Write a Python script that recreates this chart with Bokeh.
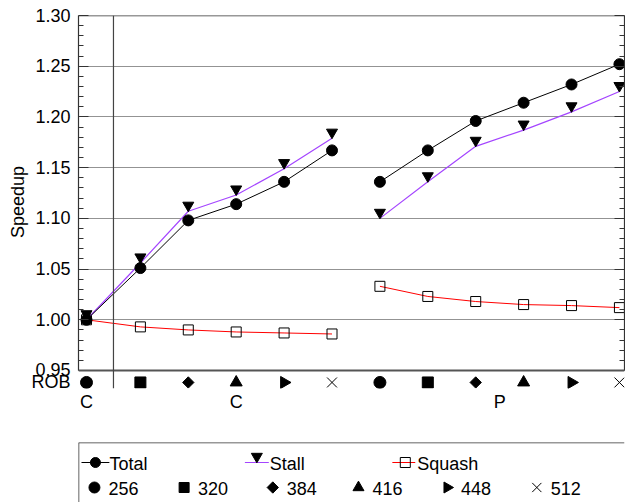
import math
from bokeh.plotting import figure
from bokeh.models import (Range1d, LinearAxis, FixedTicker, Span, Grid, Title,
                          ColumnDataSource, PrintfTickFormatter, CustomJSTickFormatter)
from bokeh.layouts import column
from bokeh.transform import dodge
from bokeh.core.properties import value
from bokeh.embed import file_html
from bokeh.resources import INLINE

FONT = "Liberation Sans"

# ---------------- data ----------------
ROB_SIZES = ["256", "320", "384", "416", "448", "512"]
ROW_NAME = "ROB"
# x positions of the six ROB sizes within each group
C_X = [-0.125, 1, 2, 3, 4, 5]
P_X = [6, 7, 8, 9, 10, 11]

TOTAL_C = [1.000, 1.051, 1.098, 1.114, 1.136, 1.167]
TOTAL_P = [1.136, 1.167, 1.196, 1.214, 1.232, 1.252]
STALL_C = [1.000, 1.056, 1.107, 1.123, 1.149, 1.179]
STALL_P = [1.100, 1.136, 1.171, 1.187, 1.205, 1.225]
SQUASH_C = [1.000, 0.993, 0.990, 0.988, 0.987, 0.986]
SQUASH_P = [1.033, 1.023, 1.018, 1.015, 1.014, 1.012]

GROUP_LABELS = ["C", "C", "P"]
GROUP_LABEL_X = [-0.125, 3, 8.5]
Y_TICKS = [0.95, 1.00, 1.05, 1.10, 1.15, 1.20, 1.25, 1.30]
SERIES_NAMES = ["Total", "Stall", "Squash"]

# ---------------- styles ----------------
ROB_MARKERS = ["circle", "square", "square", "triangle", "triangle", "x"]
ROB_ANGLES = [0, 0, math.pi / 4, 0, -math.pi / 2, 0]
ROB_MSIZES = [12, 11, 8, 12, 12, 14]
PURPLE = "#a445ff"
RED = "#ff0000"
AXIS_C = "#333333"
GRID_C = "#939393"

X_START, X_END = -0.292, 11.106
Y_START, Y_END = 0.93225, 1.30
ROW_Y = 0.9382
SEP_X = 0.438
STALL_SHIFT = 0.0058

Y_MINOR = [round(0.95 + 0.01 * k, 2) for k in range(36) if k % 5]

p = figure(width=625, height=440, x_range=Range1d(X_START, X_END),
           y_range=Range1d(Y_START, Y_END), x_axis_type=None, y_axis_type=None,
           output_backend="svg", toolbar_location=None,
           min_border_left=78, min_border_right=1, min_border_top=15,
           min_border_bottom=52)
p.outline_line_color = None
p.background_fill_color = "white"

p.add_layout(Grid(dimension=1, ticker=FixedTicker(ticks=Y_TICKS[1:-1]),
                  grid_line_color=GRID_C, grid_line_width=1))

def tick_axis():
    ax = LinearAxis(ticker=FixedTicker(ticks=Y_TICKS, minor_ticks=Y_MINOR),
                    formatter=CustomJSTickFormatter(code="return ''"))
    ax.bounds = (Y_TICKS[0], Y_TICKS[-1])
    ax.axis_line_color = AXIS_C
    ax.axis_line_width = 1.2
    ax.major_tick_in = 10
    ax.major_tick_out = 0
    ax.minor_tick_in = 5
    ax.minor_tick_out = 0
    ax.major_tick_line_color = AXIS_C
    ax.minor_tick_line_color = AXIS_C
    ax.major_label_standoff = 0
    ax.major_label_text_font_size = "0px"
    return ax

# left: ticks + axis line (nearest the frame)
p.add_layout(tick_axis(), "left")

# left: tick labels, plus the ROB row name
yl = LinearAxis(ticker=FixedTicker(ticks=Y_TICKS + [ROW_Y]),
                formatter=PrintfTickFormatter(format="%.2f"),
                major_label_overrides={ROW_Y: ROW_NAME})
yl.axis_line_color = None
yl.major_tick_line_color = None
yl.minor_tick_line_color = None
yl.major_tick_in = 0
yl.major_tick_out = 0
yl.major_label_standoff = 8
yl.major_label_text_font = FONT
yl.major_label_text_font_size = "18px"
yl.major_label_text_color = "black"
p.add_layout(yl, "left")

p.add_layout(Title(text="Speedup", align="center", text_font=FONT,
                   text_font_size="18px", text_font_style="normal",
                   text_color="black", standoff=2, offset=5), "left")

p.add_layout(tick_axis(), "right")

xb = LinearAxis(ticker=FixedTicker(ticks=GROUP_LABEL_X),
                major_label_overrides={x: l for x, l in zip(GROUP_LABEL_X, GROUP_LABELS)})
xb.axis_line_color = None
xb.major_tick_line_color = None
xb.minor_tick_line_color = None
xb.major_tick_in = 0
xb.major_tick_out = 0
xb.major_label_standoff = 3
xb.major_label_text_font = FONT
xb.major_label_text_font_size = "18px"
xb.major_label_text_color = "black"
p.add_layout(xb, "below")

# frame lines
p.add_layout(Span(location=Y_TICKS[-1], dimension="width", line_color=AXIS_C, line_width=1.5))
p.add_layout(Span(location=Y_TICKS[0], dimension="width", line_color="#555555", line_width=2.2))
p.add_layout(Span(location=SEP_X, dimension="height", line_color="#444444", line_width=1.2))

# series
for xs, tot, st, sq in [(C_X, TOTAL_C, STALL_C, SQUASH_C), (P_X, TOTAL_P, STALL_P, SQUASH_P)]:
    src = ColumnDataSource(dict(x=xs, total=tot, stall=st, squash=sq))
    p.line("x", "squash", source=src, line_color=RED, line_width=1)
    p.scatter("x", "squash", source=src, marker="square", size=10,
              fill_color=None, line_color="black", line_width=1)
    p.line("x", "stall", source=src, line_color=PURPLE, line_width=1.2)
    p.scatter("x", dodge("stall", STALL_SHIFT), source=src, marker="inverted_triangle",
              size=11, fill_color="black", line_color="black")
    p.line("x", "total", source=src, line_color="black", line_width=1)
    p.scatter("x", "total", source=src, marker="circle", size=11,
              fill_color="black", line_color="black")

# ROB marker row
row_src = ColumnDataSource(dict(
    x=C_X + P_X,
    y=[ROW_Y] * 12,
    marker=ROB_MARKERS * 2,
    angle=ROB_ANGLES * 2,
    size=ROB_MSIZES * 2,
))
p.scatter("x", "y", source=row_src, marker="marker", angle="angle", size="size",
          fill_color="black", line_color="black", line_width=1)

# ---------------- legend ----------------
lg = figure(width=625, height=62, x_range=Range1d(0, 548), y_range=Range1d(60, 0),
            x_axis_type=None, y_axis_type=None, output_backend="svg",
            toolbar_location=None, min_border_left=77, min_border_right=0,
            min_border_top=2, min_border_bottom=0)
lg.outline_line_color = None
lg.add_layout(Span(location=0, dimension="width", line_color=AXIS_C, line_width=1.5))
lg.add_layout(Span(location=0, dimension="height", line_color=AXIS_C, line_width=1.5))

R1, R2 = 20, 45
# row 1: series
lg.line([3, 31], [R1, R1], line_color="black", line_width=1)
lg.scatter([17], [R1], marker="circle", size=10, fill_color="black", line_color="black")
lg.line([167, 191], [R1, R1], line_color=PURPLE, line_width=1.2)
lg.scatter([179], [R1 - 6], marker="inverted_triangle", size=11, fill_color="black",
           line_color="black")
lg.line([315, 338], [R1, R1], line_color=RED, line_width=1)
lg.scatter([328], [R1], marker="square", size=10, fill_color=None, line_color="black")
lg.text([31, 192, 340], [R1 + 1] * 3, text=SERIES_NAMES, text_font=value(FONT),
        text_font_size="18px", text_baseline="middle", text_color="black")

# row 2: ROB sizes
LEG_X = [16, 106, 195, 281, 370, 460]
lg.scatter(LEG_X, [R2] * 6, marker=ROB_MARKERS, angle=ROB_ANGLES,
           size=[11, 10, 8, 11, 11, 13], fill_color="black", line_color="black")
lg.text([x + 14 for x in LEG_X], [R2 + 1] * 6, text=ROB_SIZES, text_font=value(FONT),
        text_font_size="18px", text_baseline="middle", text_color="black")

layout = column(p, lg)
open("out.html", "w").write(file_html(layout, INLINE))
